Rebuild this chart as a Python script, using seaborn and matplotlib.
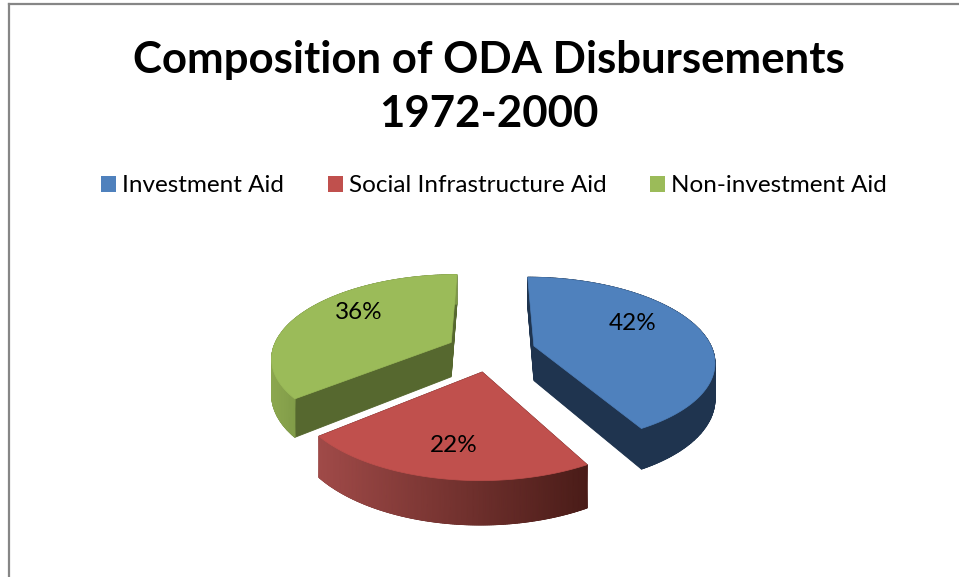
import numpy as np
import seaborn as sns
import matplotlib.pyplot as plt
from matplotlib.colors import LinearSegmentedColormap
from matplotlib.patches import Patch, Polygon

categories = ["Investment Aid", "Social Infrastructure Aid", "Non-investment Aid"]
shares = [42, 22, 36]
title = "Composition of ODA Disbursements\n1972-2000"

top_colors = ["#4f81bd", "#c0504d", "#9bbb59"]
cut_colors = ["#1f344f", "#4a1c18", "#56682f"]
wall_from = ["#1f344f", "#a04a48", "#8ca74f"]
wall_to = ["#1f344f", "#4a1c18", "#7f9a47"]
label_dx = [-1, -4, -3]
label_dy = [-11, 15, -11]

# fake 3d view of the flat pie
CX, CY = 491, 351
RX, RY = 179, 82
K = 0.17
DEPTH = 35


def project(x, y, h=0.0):
    s = 1 / (1 + K * y)
    return CX + RX * x * s, CY - RY * y * s + DEPTH * s * h


def wedge_outline(w):
    t = np.radians(np.linspace(w.theta1, w.theta2, 160))
    ax_ = w.center[0] + w.r * np.cos(t)
    ay_ = w.center[1] + w.r * np.sin(t)
    return ax_, ay_


sns.set_theme(style="white")
plt.rcParams["font.family"] = ["Lato", "DejaVu Sans"]

fig = plt.figure(figsize=(9.59, 5.77), dpi=100)
ax = fig.add_axes([9 / 959, 0, 950 / 959, 573 / 577])
ax.set_xticks([])
ax.set_yticks([])
for side in ["right", "bottom"]:
    ax.spines[side].set_visible(False)
for side in ["left", "top"]:
    ax.spines[side].set_color("#868686")
    ax.spines[side].set_linewidth(1.6)

# pie only computes the wedges, they get drawn again in the view above
helper = fig.add_axes([0, 0, 0.1, 0.1])
wedges, _, autotexts = helper.pie(
    shares, explode=[0.25] * 3, startangle=90, counterclock=False,
    autopct="%d%%", pctdistance=0.6,
)
helper.set_visible(False)

order = [2, 0, 1]  # back to front
for n, i in enumerate(order):
    z = 2 + n * 3
    w = wedges[i]
    arc_x, arc_y = wedge_outline(w)
    xs = np.r_[arc_x, w.center[0]]
    ys = np.r_[arc_y, w.center[1]]

    # solid body, stacked from bottom to top
    for h in np.linspace(1, 0, 45):
        px, py = project(xs, ys, h)
        ax.add_patch(Polygon(np.c_[px, py], closed=True, fc=cut_colors[i],
                             ec=cut_colors[i], lw=0.6, zorder=z))

    # outer wall with left to right gradient
    tx, ty = project(arc_x, arc_y, 0)
    bx, by = project(arc_x, arc_y, 1)
    cmap = LinearSegmentedColormap.from_list("wall", [wall_from[i], wall_to[i]])
    x0, x1 = min(tx.min(), bx.min()), max(tx.max(), bx.max())
    if i == 2:
        x1 = x0 + 30
    shade = np.clip((np.vstack([tx, bx]) - x0) / (x1 - x0), 0, 1)
    ax.pcolormesh(np.vstack([tx, bx]), np.vstack([ty, by]), shade, cmap=cmap,
                  vmin=0, vmax=1, shading="gouraud", zorder=z + 1)

    # top face
    px, py = project(xs, ys, 0)
    ax.add_patch(Polygon(np.c_[px, py], closed=True, fc=top_colors[i],
                         ec=top_colors[i], lw=0.5, zorder=z + 2))

ax.set_xlim(9, 959)
ax.set_ylim(577, 4)

for i, t in enumerate(autotexts):
    lx, ly = project(*t.get_position())
    ax.text(lx + label_dx[i], ly + label_dy[i], t.get_text(), ha="center", va="center",
            fontsize=17.5, color="black", zorder=30)

ax.text(489, 87, title, ha="center", va="center", fontsize=31.5,
        fontweight="bold", color="black", linespacing=1.45, zorder=30)

handles = [Patch(fc=c, ec="none") for c in top_colors]
fig.legend(handles, categories, loc="center", bbox_to_anchor=(494 / 959, 1 - 186 / 577),
           ncol=3, frameon=False, fontsize=17.5, handlelength=0.62, handleheight=0.62,
           handletextpad=0.25, columnspacing=1.8, borderpad=0, labelcolor="black")

fig.savefig("out.png", dpi=100)
